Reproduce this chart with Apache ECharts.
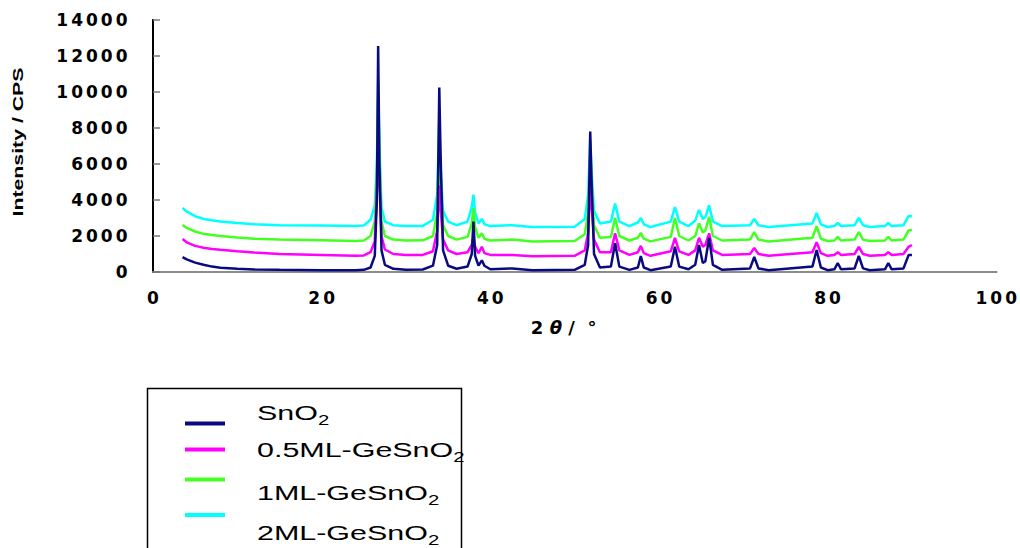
<!DOCTYPE html>
<html>
<head>
<meta charset="utf-8">
<script src="https://cdn.jsdelivr.net/npm/echarts@6/dist/echarts.min.js"></script>
<style>
html,body{margin:0;padding:0;background:#fff;}
#chart{width:1020px;height:548px;}
</style>
</head>
<body>
<div id="chart"></div>
<script>
// 2θ positions (deg), shared by all four patterns
const twoTheta = [3.5,4,5,6,7,8,10,12,15,20,24,25,25.8,26.3,26.55,26.7,26.85,27.1,27.5,28.5,30,32,33.2,33.7,33.95,34.1,34.4,35,36,37.3,37.8,38.0,38.2,38.6,39.0,39.3,40,42.6,45,50,51.2,51.6,51.85,52.0,52.3,53,54.3,54.8,55.3,56.5,57.5,57.85,58.2,59,61.4,61.9,62.4,63.5,64.3,64.75,65.2,65.5,65.95,66.4,67.5,70.8,71.3,71.8,73,78.2,78.7,79.2,80,80.8,81.2,81.6,83.2,83.7,84.2,85,86.8,87.2,87.6,89,89.6,90.0];

// Intensity (CPS) for each sample
const snO2 = [830,700,520,400,300,240,180,140,120,100,100,120,250,900,4000,12550,6000,1200,400,180,130,140,350,1500,10250,6600,1200,350,180,300,1000,2800,900,350,650,350,150,200,100,120,400,1500,7800,5200,1000,250,300,1600,300,120,250,880,250,100,300,1400,300,150,400,1500,500,600,1900,400,120,200,830,200,100,300,1220,250,100,150,500,150,200,890,200,100,150,500,150,200,940,940];
const ge05 = [1830,1650,1450,1350,1280,1230,1150,1080,1000,950,900,920,1100,1700,4500,7050,5000,2000,1250,1000,950,950,1150,2300,4800,3500,1800,1200,1000,1100,1500,1950,1400,1050,1400,1050,950,950,880,900,1200,2200,4600,3800,1800,1100,1100,2150,1200,950,1100,1450,1050,900,1150,1900,1150,950,1200,1900,1400,1500,2150,1200,950,1000,1330,1000,900,1100,1650,1050,900,950,1100,950,1000,1400,1000,900,950,1100,950,1000,1400,1500];
const ge1 = [2610,2450,2250,2120,2050,2000,1920,1850,1800,1760,1720,1750,2000,2800,5500,9600,6500,2800,2000,1800,1750,1760,2000,3300,7400,5000,2600,2000,1800,1950,2700,3550,2500,1900,2150,1850,1750,1800,1700,1720,2100,3300,6000,4800,2600,1900,1950,3000,2000,1750,1900,2170,1850,1700,1950,3000,2000,1750,2000,2700,2200,2300,3050,2000,1750,1800,2220,1800,1700,1900,2550,1850,1720,1750,1950,1750,1800,2220,1800,1720,1750,1950,1750,1800,2300,2330];
const ge2 = [3560,3350,3100,2950,2870,2800,2720,2650,2600,2580,2550,2580,2900,3700,6000,10600,7000,3600,2800,2600,2550,2560,2900,4300,8550,5800,3400,2800,2600,2800,3600,4300,3300,2700,2950,2650,2550,2600,2500,2520,2950,4300,7300,5600,3400,2700,2800,3800,2800,2550,2750,3000,2650,2500,2800,3600,2800,2550,2850,3450,2950,3050,3700,2800,2550,2600,2950,2600,2500,2700,3280,2650,2500,2550,2720,2550,2600,3000,2600,2500,2550,2720,2550,2600,3100,3100];

const seriesNames = ['SnO2','0.5ML-GeSnO2','1ML-GeSnO2','2ML-GeSnO2'];
const seriesColors = ['#0a0a80','#ff00ff','#44ff22','#00ffff'];
const xTicks = [0,20,40,60,80,100];
const yTicks = [0,2000,4000,6000,8000,10000,12000,14000];

const pairs = ys => twoTheta.map((x,i)=>[x,ys[i]]);
const allY = [snO2, ge05, ge1, ge2];

const chart = echarts.init(document.getElementById('chart'), null, {renderer:'svg'});
// wide, bold tick digits (each digit a token so the spacing can be opened up)
const digitRich = {d:{fontFamily:'DejaVu Sans', fontWeight:'bold', fontSize:17, color:'#000', padding:[0,1.5,0,1.5]}};
const digitFmt = v => String(v).split('').map(c => '{d|' + c + '}').join('');
const labelFont = {formatter: digitFmt, rich: digitRich};

const series = [3,2,1,0].map(i => ({
  name: seriesNames[i],
  type:'line',
  data: pairs(allY[i]),
  showSymbol:false,
  symbol:'none',
  lineStyle:{color:seriesColors[i], width:2.5},
  itemStyle:{color:seriesColors[i]},
  animation:false,
  xAxisIndex:0, yAxisIndex:0
}));

const legendTop = [423.5, 449.5, 479.5, 515];
const legendTextY = [413, 450, 493, 533];
const legendLabels = [
  '{a|SnO}{s|2}',
  '{a|0.5ML-GeSnO}{s|2}',
  '{a|1ML-GeSnO}{s|2}',
  '{a|2ML-GeSnO}{s|2}'
];
const rich = {
  a:{fontFamily:'Liberation Sans', fontSize:21, color:'#000', lineHeight:28, verticalAlign:'middle'},
  s:{fontFamily:'Liberation Sans', fontSize:14, color:'#000', lineHeight:28, verticalAlign:'bottom'}
};
const graphics = [
  {type:'rect', shape:{x:147.5, y:388.5, width:314, height:200}, style:{fill:'none', stroke:'#000', lineWidth:1.5}, silent:true},
  {type:'text', x:18, y:142, rotation:Math.PI/2, scaleX:1.42,
   style:{text:'Intensity / CPS', fontFamily:'Liberation Sans', fontWeight:'bold', fontSize:15, fill:'#000', align:'center', verticalAlign:'middle'}}
];
seriesNames.forEach((n,i)=>{
  graphics.push({type:'line', shape:{x1:185, y1:legendTop[i], x2:225, y2:legendTop[i]}, style:{stroke:seriesColors[i], lineWidth:4}, silent:true});
  graphics.push({type:'text', x:257, y:legendTextY[i], scaleX:1.45,
    style:{text:legendLabels[i], rich:rich, align:'left', verticalAlign:'middle'}});
});

chart.setOption({
  backgroundColor:'#fff',
  animation:false,
  grid:{left:153, right:20, top:20, bottom:276, containLabel:false},
  xAxis:[{
    type:'value', min:xTicks[0], max:xTicks[xTicks.length-1], interval:20,
    position:'bottom',
    name:'{n|2 }{t|θ}{n| /  °}', nameLocation:'middle', nameGap:46,
    nameTextStyle:{padding:[0,22,0,0], rich:{n:{fontFamily:'DejaVu Sans', fontWeight:'bold', fontSize:18, color:'#000'}, t:{fontFamily:'DejaVu Sans', fontWeight:'bold', fontStyle:'italic', fontSize:18, color:'#000'}}},
    axisLine:{show:true, onZero:false, lineStyle:{color:'#000', width:2}},
    axisTick:{show:false},
    splitLine:{show:false},
    axisLabel:Object.assign({margin:17}, labelFont)
  },{
    type:'value', min:0, max:100, position:'top',
    axisLine:{show:true, lineStyle:{color:'#8c8c8c', width:2}},
    axisTick:{show:false}, axisLabel:{show:false}, splitLine:{show:false}
  }],
  yAxis:[{
    type:'value', min:yTicks[0], max:yTicks[yTicks.length-1], interval:2000,
    position:'left',
    axisLine:{show:true, onZero:false, lineStyle:{color:'#000', width:2}},
    axisTick:{show:true, inside:true, length:7, lineStyle:{color:'#777', width:1.5}},
    splitLine:{show:false},
    axisLabel:Object.assign({margin:24}, labelFont)
  },{
    type:'value', min:0, max:14000, position:'right',
    axisLine:{show:true, lineStyle:{color:'#000', width:2}},
    axisTick:{show:false}, axisLabel:{show:false}, splitLine:{show:false}
  }],
  series: series,
  graphic: graphics
});
</script>
</body>
</html>
